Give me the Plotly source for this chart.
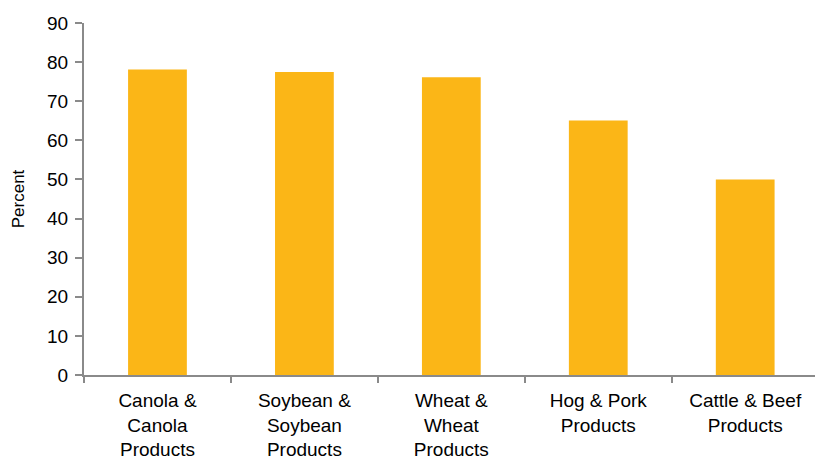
import plotly.graph_objects as go

# Share of production exported, by commodity group
categories = [
    "Canola &<br>Canola<br>Products",
    "Soybean &<br>Soybean<br>Products",
    "Wheat &<br>Wheat<br>Products",
    "Hog & Pork<br>Products",
    "Cattle & Beef<br>Products",
]
percent = [78.1, 77.5, 76.1, 65.1, 50.0]
y_ticks = [0, 10, 20, 30, 40, 50, 60, 70, 80, 90]

BAR_COLOR = "#FBB617"
AXIS_COLOR = "#8A8A8A"
FONT = "Liberation Sans, Arial, sans-serif"

fig = go.Figure(
    go.Bar(
        x=categories,
        y=percent,
        width=0.4,
        marker=dict(color=BAR_COLOR, line=dict(width=0)),
    )
)

fig.update_layout(
    width=815,
    height=456,
    margin=dict(l=84, r=0, t=23, b=81),
    paper_bgcolor="white",
    plot_bgcolor="white",
    showlegend=False,
    font=dict(family=FONT, size=19, color="#000000"),
)

fig.update_xaxes(
    type="category",
    range=[-0.5, 4.475],
    tickson="boundaries",
    automargin=False,
    showgrid=False,
    zeroline=False,
    showline=True,
    linecolor=AXIS_COLOR,
    linewidth=2,
    ticks="outside",
    ticklen=6,
    tickwidth=2,
    tickcolor=AXIS_COLOR,
    tickfont=dict(size=19, color="#000000"),
    ticklabelstandoff=7,
)

fig.update_yaxes(
    range=[0, 90],
    tickmode="array",
    tickvals=y_ticks,
    automargin=False,
    showgrid=False,
    zeroline=False,
    showline=True,
    linecolor=AXIS_COLOR,
    linewidth=2,
    ticks="outside",
    ticklen=7,
    tickwidth=2,
    tickcolor=AXIS_COLOR,
    tickfont=dict(size=19, color="#000000"),
    ticklabelstandoff=3,
    title=dict(text="Percent", font=dict(size=17, color="#000000"), standoff=18),
)

fig.write_html("out.html")
